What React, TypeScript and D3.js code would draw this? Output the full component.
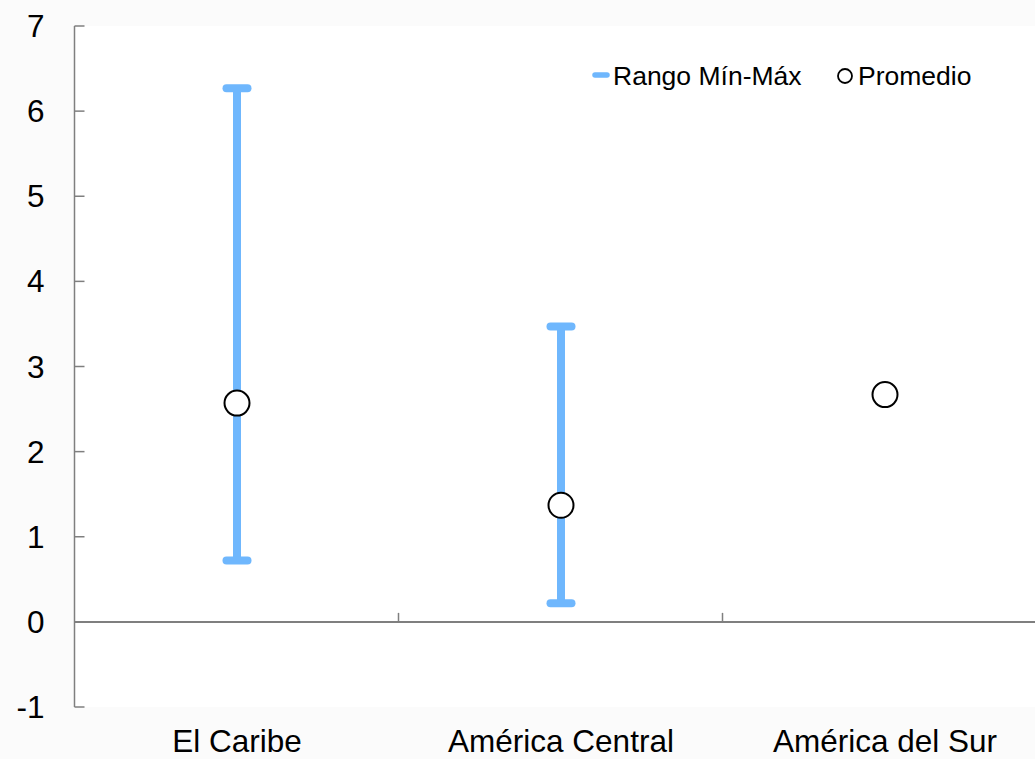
import React from "react";
import * as d3 from "d3";

const categories = ["El Caribe", "América Central", "América del Sur"];
const minValues: (number | null)[] = [0.72, 0.22, null];
const maxValues: (number | null)[] = [6.27, 3.47, null];
const meanValues = [2.57, 1.37, 2.67];
const yTicks = [-1, 0, 1, 2, 3, 4, 5, 6, 7];
const legendLabels = ["Rango Mín-Máx", "Promedio"];

const W = 1035;
const H = 759;
const BLUE = "#6fb7fd";
const AXIS = "#7f7f7f";
const FONT = "'Liberation Sans', Arial, sans-serif";

export default function App() {
  const y = d3.scaleLinear().domain([-1, 7]).range([707, 26]);
  const x = d3.scaleBand().domain(categories).range([75, 1047]).padding(0);
  const axisX = 74.5;
  const y0 = y(0);

  return (
    <svg width={W} height={H} style={{ position: "absolute", left: 0, top: 0, background: "#fbfbfb" }} fontFamily={FONT}>
      <rect x={axisX} y={y(7)} width={W - axisX} height={y(-1) - y(7)} fill="#ffffff" />
      {/* y axis */}
      <line x1={axisX} x2={axisX} y1={y(7)} y2={y(-1)} stroke={AXIS} strokeWidth={1.5} />
      {yTicks.map((t) => (
        <g key={t}>
          <line x1={axisX} x2={axisX + 10} y1={y(t)} y2={y(t)} stroke={AXIS} strokeWidth={1.5} />
          <text x={44.5} y={y(t)} textAnchor="end" dominantBaseline="central" fontSize={31.5} fill="#000">
            {t}
          </text>
        </g>
      ))}
      {/* zero line */}
      <line x1={axisX} x2={W} y1={y0} y2={y0} stroke={AXIS} strokeWidth={2} />
      {categories.slice(1).map((c) => (
        <line key={c} x1={(x(c) as number) - 0.5} x2={(x(c) as number) - 0.5} y1={y0} y2={y0 - 9} stroke={AXIS} strokeWidth={1.5} />
      ))}
      {categories.map((c) => (
        <text key={c} x={(x(c) as number) + x.bandwidth() / 2} y={752} textAnchor="middle" fontSize={31.5} fill="#000">
          {c}
        </text>
      ))}
      {/* ranges */}
      {categories.map((c, i) => {
        const lo = minValues[i];
        const hi = maxValues[i];
        if (lo == null || hi == null) return null;
        const cx = (x(c) as number) + x.bandwidth() / 2;
        return (
          <g key={c}>
            <line x1={cx} x2={cx} y1={y(lo)} y2={y(hi)} stroke={BLUE} strokeWidth={8} />
            <line x1={cx - 10.5} x2={cx + 10.5} y1={y(hi)} y2={y(hi)} stroke={BLUE} strokeWidth={8} strokeLinecap="round" />
            <line x1={cx - 10.5} x2={cx + 10.5} y1={y(lo)} y2={y(lo)} stroke={BLUE} strokeWidth={8} strokeLinecap="round" />
          </g>
        );
      })}
      {/* means */}
      {categories.map((c, i) => {
        const cx = (x(c) as number) + x.bandwidth() / 2;
        return <circle key={c} cx={cx} cy={y(meanValues[i])} r={12.5} fill="#ffffff" stroke="#000" strokeWidth={2} />;
      })}
      {/* legend */}
      <line x1={595} x2={607} y1={75} y2={75} stroke={BLUE} strokeWidth={5.5} strokeLinecap="round" />
      <text x={613} y={76} dominantBaseline="central" fontSize={26.5} fill="#000">
        {legendLabels[0]}
      </text>
      <circle cx={845} cy={76} r={7} fill="#ffffff" stroke="#000" strokeWidth={1.8} />
      <text x={858} y={76} dominantBaseline="central" fontSize={26.5} fill="#000">
        {legendLabels[1]}
      </text>
    </svg>
  );
}
